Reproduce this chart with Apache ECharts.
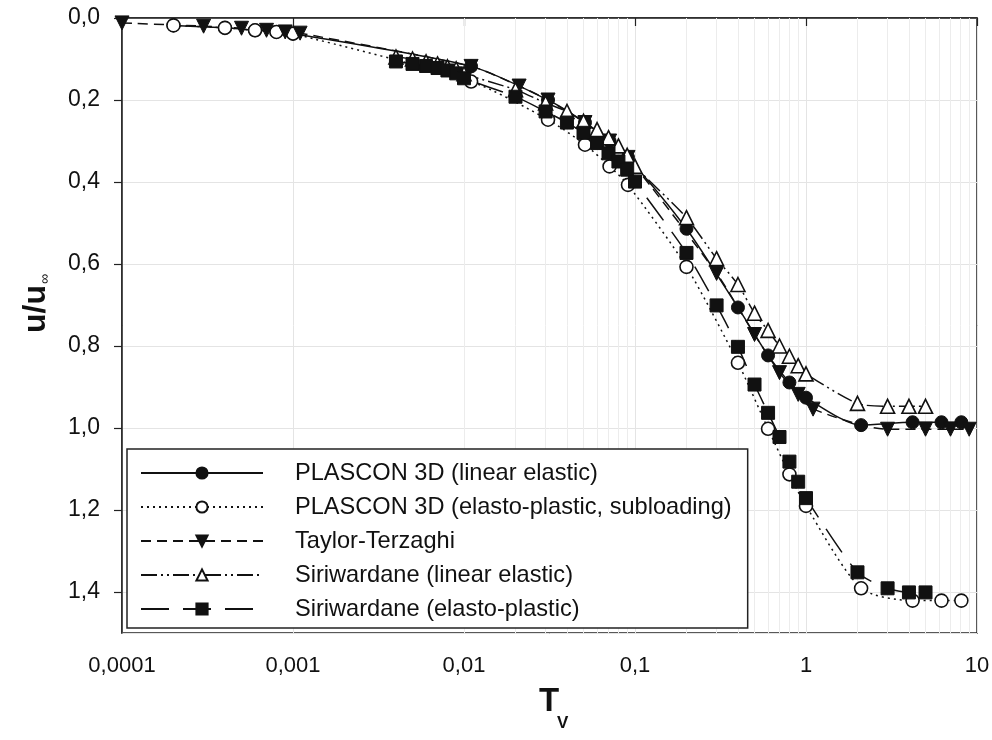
<!DOCTYPE html>
<html><head><meta charset="utf-8">
<script src="https://cdn.jsdelivr.net/npm/echarts@6/dist/echarts.min.js"></script>
<style>html,body{margin:0;padding:0;background:#fff}#c{width:992px;height:740px}</style>
</head><body><div id="c"></div>
<script>
// ---- data ----
const xTickValues = [0.0001, 0.001, 0.01, 0.1, 1, 10];
const yTickValues = [0, 0.2, 0.4, 0.6, 0.8, 1.0, 1.2, 1.4];

const seriesNames = [
  'PLASCON 3D (linear elastic)',
  'PLASCON 3D (elasto-plastic, subloading)',
  'Taylor-Terzaghi',
  'Siriwardane (linear elastic)',
  'Siriwardane (elasto-plastic)'
];

const plasconLinT = [0.0002,0.0004,0.0006,0.0008,0.001,0.011,0.031,0.051,0.071,0.091,0.2,0.4,0.6,0.8,1.0,2.1,4.2,6.2,8.1];
const plasconLinU = [0.018,0.024,0.030,0.034,0.038,0.118,0.200,0.255,0.300,0.340,0.514,0.706,0.823,0.889,0.926,0.993,0.986,0.986,0.986];

const plasconEpT = [0.0002,0.0004,0.0006,0.0008,0.001,0.011,0.031,0.051,0.071,0.091,0.2,0.4,0.6,0.8,1.0,2.1,4.2,6.2,8.1];
const plasconEpU = [0.018,0.024,0.030,0.034,0.038,0.155,0.248,0.309,0.362,0.407,0.607,0.841,1.002,1.113,1.190,1.391,1.421,1.421,1.421];

const terzT = [0.0001,0.0003,0.0005,0.0007,0.0009,0.0011,0.011,0.021,0.031,0.051,0.071,0.091,0.3,0.5,0.7,0.9,1.1,3,5,7,9];
const terzU = [0.012,0.020,0.025,0.030,0.034,0.037,0.118,0.166,0.200,0.255,0.300,0.340,0.623,0.772,0.865,0.918,0.954,1.003,1.003,1.003,1.003];

const siriLeT = [0.004,0.005,0.006,0.007,0.008,0.009,0.01,0.02,0.03,0.04,0.05,0.06,0.07,0.08,0.09,0.1,0.2,0.3,0.4,0.5,0.6,0.7,0.8,0.9,1,2,3,4,5];
const siriLeU = [0.095,0.100,0.107,0.112,0.119,0.124,0.136,0.175,0.207,0.228,0.252,0.272,0.292,0.312,0.335,0.362,0.487,0.587,0.650,0.720,0.762,0.800,0.825,0.848,0.868,0.940,0.947,0.947,0.947];

const siriEpT = [0.004,0.005,0.006,0.007,0.008,0.009,0.01,0.02,0.03,0.04,0.05,0.06,0.07,0.08,0.09,0.1,0.2,0.3,0.4,0.5,0.6,0.7,0.8,0.9,1,2,3,4,5];
const siriEpU = [0.106,0.112,0.117,0.122,0.128,0.135,0.147,0.192,0.228,0.255,0.280,0.305,0.330,0.350,0.370,0.399,0.573,0.701,0.802,0.894,0.963,1.022,1.082,1.131,1.171,1.352,1.391,1.401,1.401];

// ---- build ----
const FONT = "'Liberation Sans', Arial, sans-serif";
const pairs = (t, u) => t.map((v, i) => [v, u[i]]);

// minor gridline positions 2..9 within each decade of the axis range
const minorGrid = [];
for (let i = 0; i < xTickValues.length - 1; i++) {
  for (let k = 2; k <= 9; k++) minorGrid.push({ xAxis: xTickValues[i] * k });
}

function xFmt(v) {
  const e = Math.round(Math.log10(v));
  if (e >= 0) return String(Math.round(Math.pow(10, e)));
  return '0,' + '0'.repeat(-e - 1) + '1';
}
function yFmt(v) {
  if (Math.abs(v - 1.5) < 1e-6) return '';
  return v.toFixed(1).replace('.', ',');
}

const black = '#111';
const baseSeries = (name, data, symbol, filled, dash, extra) => Object.assign({
  name, type: 'line', data, symbol, symbolSize: 13, z: 3,
  smooth: 0.25,
  showAllSymbol: true,
  lineStyle: { color: black, width: 1.5, type: dash },
  itemStyle: filled ? { color: black, borderColor: black, borderWidth: 1 } : { color: '#fff', borderColor: black, borderWidth: 1.6 },
  emphasis: { disabled: true }
}, extra || {});

const chart = echarts.init(document.getElementById('c'), null, { renderer: 'canvas' });
chart.setOption({
  animation: false,
  backgroundColor: '#fff',
  grid: { left: 122, right: 15, top: 18, bottom: 107, outerBoundsMode: 'none', containLabel: false,
          show: true, borderColor: '#222', borderWidth: 1.5, backgroundColor: 'transparent' },
  legend: {
    data: seriesNames,
    orient: 'vertical', left: 127, top: 449, z: 20,
    padding: [12, 16, 7, 13],
    itemWidth: 122, itemHeight: 14, itemGap: 10,
    backgroundColor: '#fff', borderColor: '#222', borderWidth: 1.5,
    textStyle: { fontSize: 23.6, color: black, fontFamily: FONT, padding: [0, 0, 0, 27], lineHeight: 24 },
    selectedMode: false
  },
  graphic: [
    { type: 'text', x: 549, y: 702, z: 10, silent: true,
      style: { text: 'T', fill: black, font: "bold 33px 'Liberation Sans', Arial, sans-serif", align: 'center', verticalAlign: 'middle' } },
    { type: 'text', x: 557, y: 723, z: 10, silent: true,
      style: { text: 'V', fill: black, font: "bold 17px 'Liberation Sans', Arial, sans-serif", align: 'left', verticalAlign: 'middle' } }
  ],
  xAxis: {
    type: 'log', logBase: 10, min: xTickValues[0], max: xTickValues[xTickValues.length - 1],
    axisLine: { lineStyle: { color: '#222', width: 1.5 } },
    axisTick: { show: true, length: 8, lineStyle: { color: '#222', width: 1.2 } },
    axisLabel: { formatter: xFmt, fontSize: 22, color: black, fontFamily: FONT, margin: 22 },
    splitLine: { show: true, lineStyle: { color: '#e4e4e4', width: 1 } }
  },
  yAxis: {
    type: 'value', inverse: true, min: 0, max: 1.5, interval: 0.2,
    name: '{a|u/u}{b|∞}', nameLocation: 'middle', nameGap: 70,
    nameTextStyle: {
      padding: [0, 0, 0, 44],
      rich: {
        a: { fontSize: 32, fontWeight: 'bold', fontFamily: FONT, color: black, lineHeight: 32, verticalAlign: 'top' },
        b: { fontSize: 14, fontFamily: FONT, color: black, lineHeight: 14, padding: [22, 0, 0, 1], verticalAlign: 'bottom' }
      }
    },
    axisLine: { show: true, lineStyle: { color: '#222', width: 1.5 } },
    axisTick: { show: true, length: 8, lineStyle: { color: '#222', width: 1.2 } },
    axisLabel: { formatter: yFmt, fontSize: 23, color: black, fontFamily: FONT, margin: 22, showMaxLabel: false },
    splitLine: { show: true, lineStyle: { color: '#e4e4e4', width: 1 } }
  },
  series: [
    {
      name: '_grid', type: 'line', data: [], z: 1, silent: true,
      markLine: {
        silent: true, z: 1, symbol: ['none', 'none'], label: { show: false },
        lineStyle: { color: '#ececec', width: 1, type: 'solid' },
        emphasis: { disabled: true },
        data: minorGrid
      }
    },
    baseSeries(seriesNames[0], pairs(plasconLinT, plasconLinU), 'circle', true, 'solid'),
    baseSeries(seriesNames[1], pairs(plasconEpT, plasconEpU), 'circle', false, [2, 4]),
    baseSeries(seriesNames[2], pairs(terzT, terzU), 'triangle', true, [10, 6], { symbolRotate: 180, symbolSize: 14 }),
    baseSeries(seriesNames[3], pairs(siriLeT, siriLeU), 'triangle', false, [16, 4, 2, 4, 2, 4], { symbolSize: 14 }),
    baseSeries(seriesNames[4], pairs(siriEpT, siriEpU), 'rect', true, [28, 14], { symbolSize: 13 })
  ]
});
</script>
</body></html>
